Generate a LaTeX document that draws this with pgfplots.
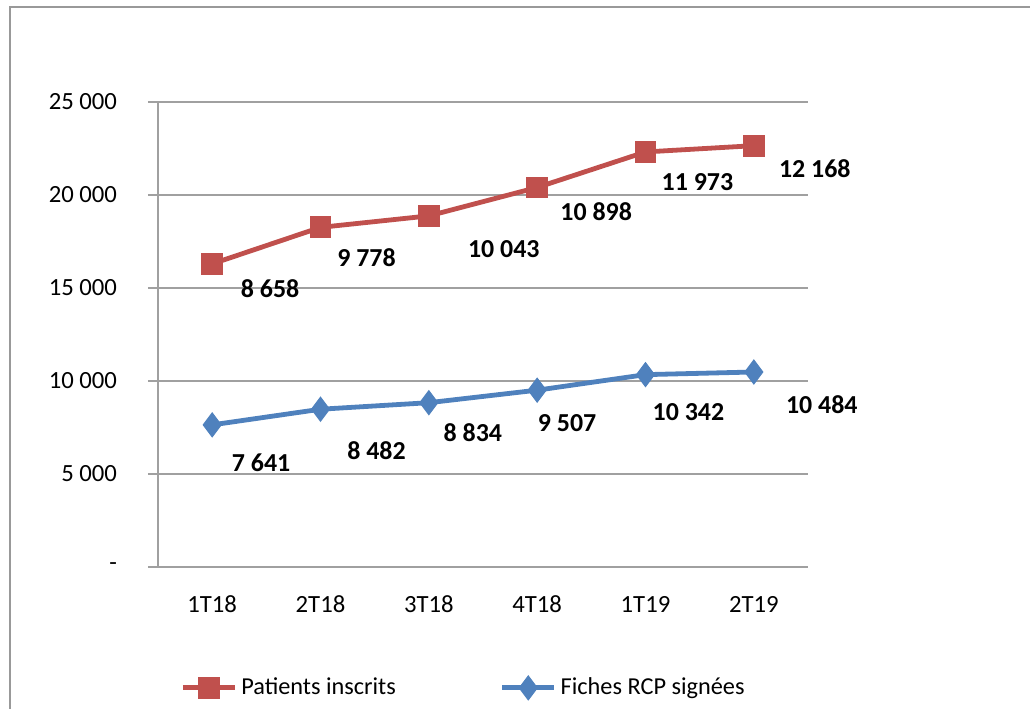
\documentclass[border=0pt]{standalone}
\usepackage{pgfplots}
\usepackage{pgfplotstable}
\pgfplotsset{compat=1.18}
\usepackage{fontspec}
\setmainfont{Carlito}
\definecolor{myred}{RGB}{192,80,77}
\definecolor{myblue}{RGB}{79,129,189}
\definecolor{gridc}{RGB}{160,160,160}
\pgfplotstableread{
x y lab dx dy
0 16299 8658 29 -12.5
1 18260 9778 23 -15
2 18877 10043 37.5 -16.5
3 20405 10898 29.5 -12
4 22315 11973 26 -15
5 22652 12168 30.5 -11.5
}\redtab
\pgfplotstableread{
x y lab dx dy
0 7641 7641 24.5 -19
1 8482 8482 28 -20.5
2 8834 8834 22 -15
3 9507 9507 15 -16.5
4 10342 10342 21.5 -18.5
5 10484 10484 34 -16.5
}\bluetab
\begin{document}
\begin{tikzpicture}
\useasboundingbox (0,0) rectangle (515bp,354.5bp);
\draw[gray!80, line width=1bp] (5bp,-2bp) -- (5bp,351bp) -- (517bp,351bp);
\begin{axis}[
  at={(79bp,71bp)}, anchor=south west,
  scale only axis, width=325bp, height=232.5bp,
  xmin=-0.5, xmax=5.5, ymin=0, ymax=25000,
  scaled y ticks=false,
  axis x line*=bottom, axis y line*=left,
  axis line style={gridc, line width=0.8bp},
  xtick={0,...,5},
  xticklabels={1T18,2T18,3T18,4T18,1T19,2T19},
  x tick style={draw=none},
  extra x ticks={-0.5,0.5,1.5,2.5,3.5,4.5,5.5},
  extra x tick labels={},
  extra x tick style={tick style={draw=gridc, line width=0.8bp}, major tick length=5bp, tick align=outside},
  ytick={0,5000,10000,15000,20000,25000},
  yticklabels={-,5 000,10 000,15 000,20 000,25 000},
  y tick style={gridc, line width=0.8bp},
  major tick length=5bp, tick align=outside,
  ymajorgrids, grid style={gridc, line width=0.8bp},
  yticklabel style={font=\fontsize{12.4}{14}\selectfont, xshift=-12bp},
  xticklabel style={font=\fontsize{12.4}{14}\selectfont, yshift=-6bp},
  clip=false,
  nodes near coords,
  point meta=explicit,
  /pgf/number format/.cd, fixed, precision=0, 1000 sep={\ }, assume math mode=true,
  /pgfplots/.cd,
  visualization depends on={\thisrow{dx} \as \dx},
  visualization depends on={\thisrow{dy} \as \dy},
  every node near coord/.append style={anchor=center, xshift=\dx bp, yshift=\dy bp, font=\fontsize{13}{15}\bfseries\selectfont, text=black},
  legend columns=2,
  legend style={at={(0.034,-0.26)}, anchor=west, draw=none, fill=none, font=\fontsize{12.2}{14}\selectfont,
    /tikz/every even column/.append style={column sep=50bp}, inner sep=0pt},
  legend cell align=left,
  legend image code/.code={\draw[#1, mark repeat=2, mark phase=2] plot coordinates {(0bp,0bp) (13bp,0bp) (26bp,0bp)};},
]
\addplot[myred, line width=2.4bp, mark=square*, mark size=5.2bp, mark options={fill=myred, line width=0.5bp}] table[x=x, y=y, meta=lab] {\redtab};
\addlegendentry{Patients inscrits}
\addplot[myblue, line width=2.4bp, mark=diamond*, mark size=6bp, mark options={fill=myblue, line width=0.5bp}] table[x=x, y=y, meta=lab] {\bluetab};
\addlegendentry{Fiches RCP signées}
\end{axis}
\end{tikzpicture}
\end{document}
